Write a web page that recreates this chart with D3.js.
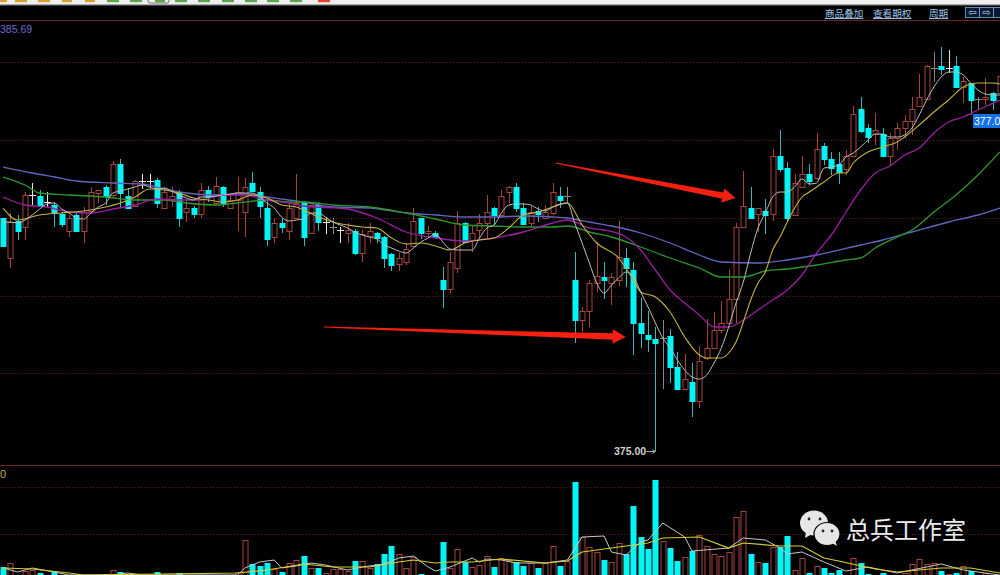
<!DOCTYPE html>
<html><head><meta charset="utf-8">
<script src="https://cdn.jsdelivr.net/npm/d3@7/dist/d3.min.js"></script>
<style>html,body{margin:0;padding:0;background:#000;overflow:hidden}svg{display:block}</style>
</head><body><svg id="c" width="1000" height="575"></svg>
<script>
const opens=[377.33,376.93,377.30,377.24,377.56,377.55,377.49,377.46,377.37,377.20,377.36,377.20,377.40,377.58,377.64,377.56,377.87,377.55,377.45,377.70,377.70,377.71,377.43,377.52,377.59,377.39,377.43,377.37,377.61,377.48,377.64,377.43,377.51,377.39,377.68,377.59,377.43,377.14,377.28,377.20,377.33,377.49,377.18,377.46,377.29,377.24,377.21,377.18,377.20,376.98,377.15,377.18,377.14,376.97,376.87,376.89,377.05,377.33,377.18,377.18,376.71,376.62,376.83,377.28,377.11,377.21,377.28,377.43,377.36,377.59,377.64,377.43,377.28,377.40,377.33,377.38,377.55,377.55,376.71,376.31,376.40,376.68,376.74,376.68,376.71,376.93,376.81,376.28,376.16,376.12,376.13,376.15,375.84,375.62,375.69,375.50,375.93,376.03,376.21,376.28,376.52,377.24,377.43,377.37,377.40,377.37,377.95,377.83,377.36,377.64,377.77,377.73,378.05,377.92,377.87,377.82,377.95,378.42,378.23,378.17,378.17,377.95,378.13,378.23,378.30,378.45,378.52,378.83,378.85,378.83,378.85,378.64,378.68,378.52,378.52,378.58,378.58];
const closes=[377.05,377.29,377.20,377.56,377.56,377.45,377.49,377.38,377.27,377.33,377.20,377.39,377.59,377.61,377.55,377.87,377.58,377.43,377.70,377.70,377.70,377.48,377.59,377.55,377.33,377.43,377.37,377.61,377.54,377.65,377.48,377.51,377.59,377.64,377.60,377.45,377.12,377.28,377.24,377.43,377.48,377.14,377.46,377.29,377.29,377.24,377.21,377.21,376.98,377.17,377.20,377.13,376.93,376.86,376.93,377.02,377.30,377.18,377.20,377.14,376.62,376.89,377.28,377.09,377.18,377.28,377.39,377.36,377.55,377.64,377.43,377.27,377.39,377.37,377.39,377.59,377.51,377.55,376.31,376.40,376.68,376.75,376.71,376.74,376.94,376.83,376.28,376.18,376.12,376.08,376.13,375.84,375.62,375.72,375.50,375.90,376.03,376.21,376.28,376.52,377.24,377.45,377.33,377.43,377.36,377.95,377.82,377.33,377.68,377.77,377.70,378.02,377.92,377.83,377.79,377.95,378.37,378.20,378.14,378.21,377.95,378.13,378.23,378.30,378.42,378.54,378.85,378.83,378.82,378.83,378.64,378.70,378.51,378.52,378.54,378.51,378.75];
const highs=[377.33,377.38,377.36,377.59,377.68,377.61,377.59,377.49,377.39,377.36,377.39,377.44,377.64,377.61,377.66,377.90,377.92,377.63,377.71,377.77,377.77,377.73,377.64,377.64,377.61,377.52,377.45,377.68,377.65,377.74,377.65,377.58,377.74,377.73,377.79,377.64,377.51,377.33,377.33,377.48,377.77,377.49,377.46,377.49,377.34,377.33,377.24,377.28,377.22,377.21,377.28,377.19,377.15,376.98,376.98,377.08,377.43,377.33,377.25,377.20,376.84,376.99,377.40,377.29,377.25,377.37,377.56,377.44,377.61,377.65,377.68,377.48,377.45,377.44,377.46,377.68,377.64,377.64,376.99,376.44,376.71,377.09,376.89,376.78,377.30,377.03,376.89,376.53,376.40,376.24,376.31,376.22,375.99,375.97,375.88,376.05,376.32,376.39,376.50,376.81,377.28,377.80,377.64,377.43,377.52,378.02,378.21,377.89,377.77,377.95,377.87,378.18,378.08,377.99,377.99,378.01,378.45,378.54,378.27,378.38,378.23,378.18,378.28,378.36,378.54,378.77,378.86,378.99,379.04,379.01,378.95,378.74,378.68,378.54,378.73,378.59,378.81];
const lows=[377.05,376.83,377.11,377.11,377.45,377.44,377.44,377.24,377.24,377.14,377.20,377.08,377.38,377.48,377.46,377.54,377.43,377.42,377.44,377.62,377.63,377.43,377.42,377.44,377.24,377.29,377.33,377.33,377.49,377.48,377.44,377.42,377.20,377.14,377.59,377.33,377.05,377.08,377.18,377.11,377.33,377.05,377.18,377.20,377.17,377.17,377.08,377.08,376.96,376.89,377.08,377.08,376.83,376.80,376.80,376.86,377.04,377.12,377.13,377.13,376.43,376.58,376.78,377.08,376.99,377.13,377.13,377.26,377.34,377.48,377.39,377.26,377.25,377.29,377.33,377.36,377.43,377.48,376.08,376.19,376.24,376.59,376.52,376.46,376.65,376.64,375.96,376.03,375.99,375.00,375.62,375.68,375.62,375.62,375.34,375.43,375.91,376.03,376.18,376.27,376.28,377.24,377.33,377.19,377.17,377.30,377.79,377.29,377.36,377.64,377.66,377.71,377.86,377.76,377.67,377.76,377.94,378.18,378.08,378.06,377.95,377.86,378.01,378.13,378.16,378.44,378.51,378.69,378.76,378.78,378.64,378.48,378.36,378.41,378.46,378.41,378.51];
const grayDoji=[45,77,90,127,133];
const volumes=[130,170,30,90,100,70,40,80,30,30,30,30,30,30,60,100,80,30,30,30,30,80,30,30,70,30,30,30,30,30,30,30,80,400,160,140,170,110,80,170,200,240,120,120,70,110,110,90,190,190,120,160,260,340,260,120,230,60,30,30,380,120,310,180,130,150,240,130,220,200,180,140,170,120,170,340,140,190,980,430,330,280,200,180,370,260,740,430,310,1000,390,320,190,230,290,450,340,260,240,280,630,690,260,180,170,330,330,440,100,220,70,140,120,70,100,30,220,170,60,30,70,30,40,70,160,210,160,170,90,60,70,140,90,30,70,40,30];
const ma5=[377.29,377.29,377.28,377.31,377.36,377.42,377.47,377.48,377.42,377.38,377.33,377.32,377.38,377.44,377.48,377.58,377.60,377.62,377.64,377.66,377.64,377.62,377.63,377.60,377.56,377.53,377.51,377.54,377.54,377.55,377.56,377.57,377.58,377.58,377.58,377.54,377.48,377.43,377.34,377.30,377.31,377.32,377.38,377.38,377.34,377.29,377.26,377.23,377.19,377.16,377.14,377.12,377.06,377.03,377.00,376.98,377.03,377.09,377.13,377.17,377.09,377.02,377.01,377.01,377.01,377.13,377.23,377.26,377.38,377.46,377.47,377.47,377.46,377.42,377.40,377.44,377.47,377.48,377.28,377.08,376.88,376.68,376.58,376.66,376.73,376.79,376.74,376.59,376.44,376.28,376.13,376.03,375.91,375.81,375.74,375.72,375.76,375.88,376.03,376.24,376.48,376.69,376.98,377.23,377.38,377.54,377.59,377.59,377.64,377.72,377.67,377.68,377.83,377.84,377.86,377.94,377.98,378.04,378.11,378.17,378.17,378.14,378.14,378.16,378.23,378.36,378.51,378.64,378.74,378.79,378.79,378.76,378.68,378.61,378.57,378.56,378.56];
const ma10Idx=[0,2,5,8,11,14,16,18,20,22,24,26,28,30,32,34,36,38,40,41,43,45,47,49,51,53,55,57,59,61,63,65,67,69,71,73,75,77,79,81,84,86,87,89,91,93,95,96,98,99,100,101,102,103,104,105,106,107,108,109,110,111,112,114,115,116,118,120,122,123,125,127,129,131,133,135,136];
const ma10=[377.43,377.31,377.36,377.38,377.40,377.44,377.48,377.54,377.62,377.61,377.58,377.53,377.51,377.49,377.51,377.56,377.53,377.46,377.44,377.41,377.34,377.29,377.26,377.24,377.23,377.13,377.07,377.08,377.05,377.01,377.08,377.11,377.13,377.23,377.36,377.39,377.44,377.48,377.26,377.08,376.93,376.71,376.59,376.54,376.39,376.14,375.96,375.93,375.93,375.98,376.09,376.29,376.51,376.68,376.79,377.01,377.14,377.29,377.43,377.54,377.59,377.64,377.69,377.78,377.78,377.88,377.99,378.04,378.09,378.14,378.26,378.39,378.51,378.64,378.68,378.68,378.67];
const ma20Idx=[0,3,6,9,12,15,18,21,24,27,30,33,36,39,41,47,51,55,59,63,67,71,75,77,80,82,85,87,89,91,93,95,97,99,101,103,105,107,109,111,113,115,117,119,121,123,125,127,129,131,133,136];
const ma20=[377.54,377.46,377.44,377.39,377.38,377.42,377.46,377.52,377.51,377.51,377.56,377.56,377.51,377.48,377.45,377.42,377.33,377.19,377.13,377.10,377.13,377.19,377.28,377.31,377.23,377.21,377.14,377.01,376.81,376.61,376.48,376.36,376.24,376.24,376.31,376.41,376.51,376.61,376.76,376.98,377.16,377.39,377.61,377.78,377.85,377.96,378.03,378.18,378.29,378.34,378.41,378.51];
const ma60Idx=[0,3,5,9,14,18,22,25,29,32,36,39,41,45,50,55,59,63,67,71,75,77,80,83,87,91,95,98,101,104,107,111,115,117,119,122,124,127,130,133,136];
const ma60=[377.74,377.66,377.58,377.56,377.54,377.51,377.51,377.48,377.46,377.48,377.51,377.49,377.49,377.46,377.44,377.38,377.32,377.26,377.25,377.24,377.24,377.25,377.19,377.14,377.04,376.93,376.83,376.74,376.74,376.80,376.82,376.86,376.91,376.93,377.03,377.14,377.21,377.39,377.56,377.76,377.99];
const ma120Idx=[0,4,7,10,15,19,22,25,29,33,36,39,41,45,50,55,59,63,67,71,75,77,80,83,87,91,95,98,103,107,111,117,120,124,129,133,136];
const ma120=[377.84,377.78,377.74,377.70,377.68,377.67,377.62,377.58,377.56,377.57,377.54,377.51,377.49,377.44,377.43,377.38,377.36,377.34,377.34,377.35,377.34,377.33,377.29,377.25,377.18,377.08,376.96,376.89,376.88,376.91,376.96,377.06,377.11,377.19,377.29,377.36,377.43];
const volFastIdx=[0,2,4,7,9,15,17,19,32,33,35,37,38,40,42,44,47,49,52,54,56,58,59,61,64,65,66,68,70,74,77,79,82,83,85,87,88,90,93,94,99,101,104,106,107,109,112,115,118,122,128,131,136];
const volFast=[120,80,120,80,50,50,70,50,50,120,180,200,120,140,170,150,100,130,160,220,240,130,90,130,220,180,210,200,170,170,200,430,440,280,250,380,400,570,430,290,320,420,400,320,260,280,180,90,130,70,160,100,50];
const volSlowIdx=[0,4,9,11,32,36,41,45,50,54,56,59,61,64,68,74,77,79,83,85,88,90,95,99,101,106,109,112,114,119,122,128,132,136];
const volSlow=[120,110,70,50,70,100,160,130,130,180,200,170,180,180,210,170,190,280,320,340,370,420,430,320,370,340,340,220,190,110,80,120,120,70];
const priceGrid=[378.89,378.11,377.33,376.55,375.78];
const volGrid=[930,460];
const arrows=[{from:[75.4,377.88],to:[99.95,377.53]},{from:[43.75,376.24],to:[84.95,376.14]}];
const lowLabel="375.00",lastLabel="377.0",topLabel="385.69",volLabel="0";
const menuItems=[["商品叠加",825],["查看期权",873],["周期",929]];
const watermark="总兵工作室";

const W=1000,H=575;
const svg=d3.select("#c");
svg.append("rect").attr("width",W).attr("height",H).attr("fill","#000");
const x=d3.scaleLinear().domain([0,136]).range([3.0,999.9]);
const y=d3.scaleLinear().domain([375,379.51]).range([451,0]);
const yv=d3.scaleLinear().domain([0,1000]).range([580,480]);
const cx=i=>Math.round(x(i));

const gridAxis=(sc,vals)=>g=>{
  g.call(d3.axisRight(sc).tickValues(vals).tickSize(W).tickFormat(""));
  g.select(".domain").remove();
  g.selectAll("line").attr("stroke","#5c1d1d").attr("stroke-width",1).attr("stroke-dasharray","1 2");
};
svg.append("g").call(gridAxis(y,priceGrid));
svg.append("g").call(gridAxis(yv,volGrid));
[[20],[465]].forEach(([py])=>svg.append("line").attr("x1",0).attr("x2",W).attr("y1",py+.5).attr("y2",py+.5).attr("stroke","#6e2222").attr("stroke-width",1.2));

const RED="#a8443c",CYAN="#00f6f6",CYANW="#3fb6b6";
const idx=d3.range(opens.length);
const isDoji=i=>opens[i]===closes[i];
const up=i=>closes[i]>=opens[i];
const wickCol=i=>isDoji(i)?(grayDoji.includes(i)?"#888":"#e6e6e6"):(up(i)?RED:CYANW);

const candles=svg.append("g");
candles.selectAll("line.w").data(idx).join("line").attr("class","w")
 .attr("x1",i=>cx(i)+.5).attr("x2",i=>cx(i)+.5)
 .attr("y1",i=>y(highs[i])).attr("y2",i=>y(lows[i]))
 .attr("stroke",wickCol).attr("stroke-width",1);
candles.selectAll("rect.b").data(idx.filter(i=>!isDoji(i))).join("rect").attr("class","b")
 .attr("x",i=>cx(i)-2).attr("width",5)
 .attr("y",i=>Math.round(y(Math.max(opens[i],closes[i])))+.5)
 .attr("height",i=>Math.max(1,Math.round(Math.abs(y(opens[i])-y(closes[i])))))
 .attr("fill",i=>up(i)?"#000":CYAN).attr("stroke",i=>up(i)?RED:CYAN).attr("stroke-width",1);
candles.selectAll("line.d").data(idx.filter(isDoji)).join("line").attr("class","d")
 .attr("x1",i=>cx(i)-3).attr("x2",i=>cx(i)+4)
 .attr("y1",i=>Math.round(y(opens[i]))+.5).attr("y2",i=>Math.round(y(opens[i]))+.5)
 .attr("stroke",wickCol).attr("stroke-width",1);

const lineOf=(sc,curve)=>d3.line().x(d=>x(d[0])).y(d=>sc(d[1])).curve(curve);
const series=(ids,vals)=>ids.map((k,j)=>[k,vals[j]]);
const maLayers=[
 [series(idx,ma5),"#bdbdbd",1],
 [series(ma10Idx,ma10),"#c4b43e",1.1],
 [series(ma20Idx,ma20),"#9a1ea2",1.3],
 [series(ma60Idx,ma60),"#2a982a",1.3],
 [series(ma120Idx,ma120),"#6464c0",1.3]];
[4,3,2,1,0].forEach(k=>{const [d,c,w]=maLayers[k];
 svg.append("path").attr("d",lineOf(y,d3.curveMonotoneX)(d)).attr("fill","none").attr("stroke",c).attr("stroke-width",w);});

const vols=svg.append("g");
vols.selectAll("rect").data(idx).join("rect")
 .attr("x",i=>cx(i)-2).attr("width",5)
 .attr("y",i=>Math.round(yv(volumes[i]))+.5)
 .attr("height",i=>Math.max(0,yv(0)-yv(volumes[i])))
 .attr("fill",i=>up(i)?"#000":CYAN).attr("stroke",i=>up(i)?RED:CYAN).attr("stroke-width",1);
svg.append("path").attr("d",lineOf(yv,d3.curveLinear)(series(volFastIdx,volFast))).attr("fill","none").attr("stroke","#c8c8c8").attr("stroke-width",1);
svg.append("path").attr("d",lineOf(yv,d3.curveLinear)(series(volSlowIdx,volSlow))).attr("fill","none").attr("stroke","#d6d030").attr("stroke-width",1.2);

arrows.forEach(a=>{
 const s=[x(a.from[0]),y(a.from[1])],t=[x(a.to[0]),y(a.to[1])];
 const dx=t[0]-s[0],dy=t[1]-s[1],L=Math.hypot(dx,dy),ux=dx/L,uy=dy/L,nx=-uy,ny=ux;
 const hl=13,sw=3.2,hw=7.2,b=[t[0]-ux*hl,t[1]-uy*hl];
 const P=(c,k)=>[c[0]+nx*k,c[1]+ny*k];
 svg.append("polygon").attr("fill","#f5200f")
  .attr("points",[P(s,-.4),P(b,-sw),P(b,-hw),t,P(b,hw),P(b,sw),P(s,.4)].map(p=>p.join(",")).join(" "));
});

svg.append("rect").attr("width",W).attr("height",5).attr("fill","#efefef");
svg.append("rect").attr("y",4).attr("width",W).attr("height",1.4).attr("fill","#a8a8a8");
const tb=[[0,7,"#dca030"],[15,12,"#dca030"],[38,12,"#dca030"],[62,10,"#dca030"],[85,10,"#dca030"],[107,12,"#5fa650"],[130,12,"#5fa650"],[155,10,"#5fa650"],[175,12,"#5fa650"],[198,12,"#5fa650"],[222,12,"#5fa650"],[245,12,"#5fa650"],[267,12,"#5fa650"],[290,12,"#5fa650"],[318,12,"#e8442c"]];
tb.forEach(d=>svg.append("rect").attr("x",d[0]).attr("y",0).attr("width",d[1]).attr("height",2.2).attr("fill",d[2]));
svg.append("rect").attr("x",148).attr("y",-3).attr("width",21).attr("height",6).attr("rx",2).attr("fill","none").attr("stroke","#555").attr("stroke-width",.8);

menuItems.forEach(([t,px])=>{
 svg.append("text").attr("x",px).attr("y",17).text(t).attr("fill","#9cc4ec")
  .attr("font-family","'Noto Sans CJK SC'").attr("font-size",9.6).attr("text-decoration","underline");
});
[[965,"⇦"],[979,"⇨"],[993,""]].forEach(([px,t])=>{
 svg.append("rect").attr("x",px+.5).attr("y",7.5).attr("width",14).attr("height",10).attr("fill","#0a1a35").attr("stroke","#7fa6d6").attr("stroke-width",.8);
 svg.append("text").attr("x",px+7.5).attr("y",16).attr("text-anchor","middle").text(t).attr("fill","#cfe0f5").attr("font-family","DejaVu Sans").attr("font-size",10);
});

const f="Liberation Sans";
svg.append("text").attr("x",0).attr("y",33).text(topLabel).attr("fill","#6a6ad0").attr("font-family",f).attr("font-size",10.5);
svg.append("text").attr("x",0).attr("y",478).text(volLabel).attr("fill","#c0a848").attr("font-family",f).attr("font-size",11);
svg.append("text").attr("x",614).attr("y",455).text(lowLabel).attr("fill","#d0d0d0").attr("font-family",f).attr("font-size",10.5).attr("font-weight",600);
svg.append("path").attr("d",`M${x(89)-9},${y(375)+.5}H${x(89)} M${x(89)-3},${y(375)-1.5}L${x(89)},${y(375)+.5}L${x(89)-3},${y(375)+2.5}`).attr("stroke","#b0b0b0").attr("fill","none");
svg.append("rect").attr("x",973).attr("y",114).attr("width",27).attr("height",14).attr("fill","#1670e6");
svg.append("text").attr("x",974).attr("y",125).text(lastLabel).attr("fill","#fff").attr("font-family",f).attr("font-size",10.5);

const wm=svg.append("g");
wm.append("ellipse").attr("cx",814).attr("cy",523).attr("rx",14).attr("ry",12.5).attr("fill","#e6e6e6");
wm.append("path").attr("d","M806,532L805,538L812,534Z").attr("fill","#e6e6e6");
[809,820].forEach(cxe=>wm.append("circle").attr("cx",cxe).attr("cy",519).attr("r",1.4).attr("fill","#222"));
wm.append("ellipse").attr("cx",827).attr("cy",534).attr("rx",13).attr("ry",11.5).attr("fill","#e6e6e6").attr("stroke","#000").attr("stroke-width",1.2);
wm.append("path").attr("d","M832,543L837,546L835,540Z").attr("fill","#e6e6e6");
[823,832].forEach(cxe=>wm.append("circle").attr("cx",cxe).attr("cy",531).attr("r",1.4).attr("fill","#222"));
svg.append("text").attr("x",846).attr("y",539).text(watermark).attr("fill","#ececec").attr("font-family","'Noto Sans CJK SC'").attr("font-size",24);
</script></body></html>
